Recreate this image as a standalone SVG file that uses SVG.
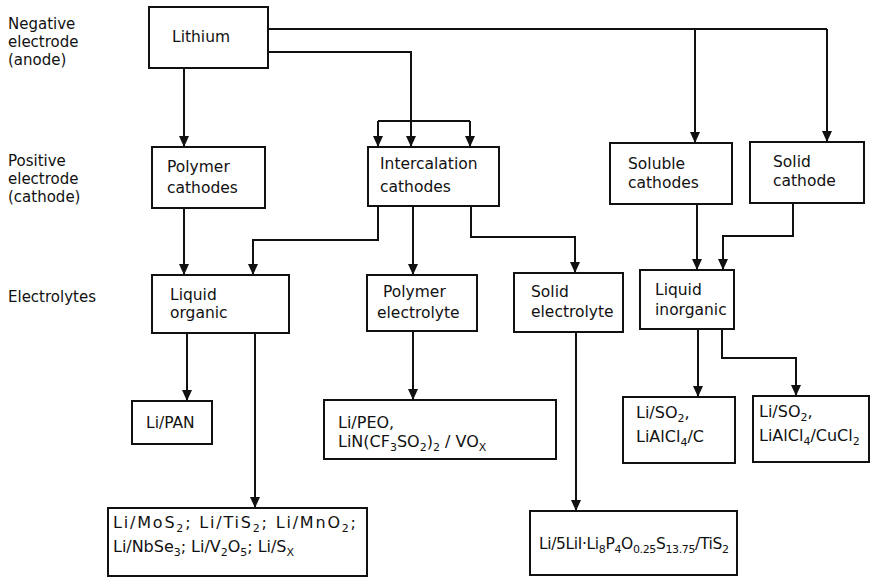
<svg xmlns="http://www.w3.org/2000/svg" width="871" height="579" viewBox="0 0 871 579">
<style>
  .box { fill: #fff; stroke: #111; stroke-width: 2; }
  .t { font-family: "DejaVu Sans", "Liberation Sans", sans-serif; font-size: 15.5px; fill: #111; }
  .f { font-family: "DejaVu Sans", "Liberation Sans", sans-serif; font-size: 16px; fill: #111; }
  .lbl { font-family: "DejaVu Sans", "Liberation Sans", sans-serif; font-size: 15px; fill: #111; }
  .sub { font-size: 11px; }
  .c { fill: none; stroke: #111; stroke-width: 2; }
  .a { fill: none; stroke: #111; stroke-width: 2; marker-end: url(#arr); }
</style>
<defs>
  <marker id="arr" viewBox="0 0 11 10" refX="11" refY="5" markerWidth="11" markerHeight="10" markerUnits="userSpaceOnUse" orient="auto">
    <path d="M0,0 L11,5 L0,10 z" fill="#111"/>
  </marker>
</defs>
<rect width="871" height="579" fill="#fff"/>

<g id="row-labels">
  <text class="lbl" x="8" y="29">Negative</text>
  <text class="lbl" x="8" y="47">electrode</text>
  <text class="lbl" x="8" y="65">(anode)</text>
  <text class="lbl" x="8" y="166">Positive</text>
  <text class="lbl" x="8" y="184">electrode</text>
  <text class="lbl" x="8" y="202">(cathode)</text>
  <text class="lbl" x="8" y="302">Electrolytes</text>
</g>

<g id="connectors">
  <polyline class="c" points="268,29 827,29"/>
  <polyline class="a" points="827,29 827,142"/>
  <polyline class="a" points="695,29 695,143"/>
  <polyline class="c" points="268,52 411,52 411,121"/>
  <polyline class="c" points="378,121 470,121"/>
  <polyline class="a" points="378,121 378,147"/>
  <polyline class="a" points="411,121 411,147"/>
  <polyline class="a" points="470,121 470,147"/>
  <polyline class="a" points="184,68 184,147"/>
  <polyline class="a" points="184,208 184,275"/>
  <polyline class="a" points="378,206 378,240 253,240 253,275"/>
  <polyline class="a" points="413,206 413,275"/>
  <polyline class="a" points="471,206 471,237 575,237 575,273"/>
  <polyline class="a" points="697,204 697,270"/>
  <polyline class="a" points="793,203 793,236 723,236 723,270"/>
  <polyline class="a" points="187,333 187,401"/>
  <polyline class="a" points="255,333 255,508"/>
  <polyline class="a" points="413,331 413,400"/>
  <polyline class="a" points="576,332 576,511"/>
  <polyline class="a" points="698,329 698,397"/>
  <polyline class="a" points="722,329 722,358 796,358 796,396"/>
</g>

<g id="lithium">
  <rect class="box" x="149" y="7" width="119" height="61"/>
  <text class="t" x="172" y="42">Lithium</text>
</g>

<g id="polymer-cathodes">
  <rect class="box" x="152" y="147" width="113" height="61"/>
  <text class="t" x="167" y="172">Polymer</text>
  <text class="t" x="167" y="193">cathodes</text>
</g>

<g id="intercalation-cathodes">
  <rect class="box" x="368" y="147" width="131" height="59"/>
  <text class="t" x="380" y="169">Intercalation</text>
  <text class="t" x="380" y="192">cathodes</text>
</g>

<g id="soluble-cathodes">
  <rect class="box" x="610" y="143" width="122" height="61"/>
  <text class="t" x="628" y="169">Soluble</text>
  <text class="t" x="628" y="188">cathodes</text>
</g>

<g id="solid-cathode">
  <rect class="box" x="750" y="142" width="114" height="61"/>
  <text class="t" x="773" y="167">Solid</text>
  <text class="t" x="773" y="186">cathode</text>
</g>

<g id="liquid-organic">
  <rect class="box" x="152" y="275" width="137" height="58"/>
  <text class="t" x="170" y="300">Liquid</text>
  <text class="t" x="170" y="318">organic</text>
</g>

<g id="polymer-electrolyte">
  <rect class="box" x="367" y="275" width="110" height="56"/>
  <text class="t" x="383" y="297">Polymer</text>
  <text class="t" x="377" y="318">electrolyte</text>
</g>

<g id="solid-electrolyte">
  <rect class="box" x="514" y="273" width="109" height="59"/>
  <text class="t" x="531" y="297">Solid</text>
  <text class="t" x="531" y="317">electrolyte</text>
</g>

<g id="liquid-inorganic">
  <rect class="box" x="640" y="270" width="94" height="59"/>
  <text class="t" x="655" y="295">Liquid</text>
  <text class="t" x="655" y="315">inorganic</text>
</g>

<g id="li-pan">
  <rect class="box" x="132" y="401" width="80" height="43"/>
  <text class="t" x="146" y="428">Li/PAN</text>
</g>

<g id="li-peo">
  <rect class="box" x="324" y="400" width="232" height="59"/>
  <text class="f" x="338" y="428">Li/PEO,</text>
  <text class="f" x="338" y="447">LiN(CF<tspan class="sub" dy="4">3</tspan><tspan dy="-4">SO</tspan><tspan class="sub" dy="4">2</tspan><tspan dy="-4">)</tspan><tspan class="sub" dy="4">2</tspan><tspan dy="-4"> / VO</tspan><tspan class="sub" dy="4">X</tspan></text>
</g>

<g id="li-so2-c">
  <rect class="box" x="623" y="397" width="112" height="66"/>
  <text class="f" x="636" y="418">Li/SO<tspan class="sub" dy="4">2</tspan><tspan dy="-4">,</tspan></text>
  <text class="f" x="636" y="442">LiAlCl<tspan class="sub" dy="4">4</tspan><tspan dy="-4">/C</tspan></text>
</g>

<g id="li-so2-cucl2">
  <rect class="box" x="753" y="396" width="116" height="66"/>
  <text class="f" x="759" y="417">Li/SO<tspan class="sub" dy="4">2</tspan><tspan dy="-4">,</tspan></text>
  <text class="f" x="759" y="441">LiAlCl<tspan class="sub" dy="4">4</tspan><tspan dy="-4">/CuCl</tspan><tspan class="sub" dy="4">2</tspan></text>
</g>

<g id="li-mos2">
  <rect class="box" x="108" y="508" width="259" height="68"/>
  <text class="f" x="113" y="528" textLength="243">Li/MoS<tspan class="sub" dy="4">2</tspan><tspan dy="-4">; Li/TiS</tspan><tspan class="sub" dy="4">2</tspan><tspan dy="-4">; Li/MnO</tspan><tspan class="sub" dy="4">2</tspan><tspan dy="-4">;</tspan></text>
  <text class="f" x="113" y="552" textLength="181">Li/NbSe<tspan class="sub" dy="4">3</tspan><tspan dy="-4">; Li/V</tspan><tspan class="sub" dy="4">2</tspan><tspan dy="-4">O</tspan><tspan class="sub" dy="4">5</tspan><tspan dy="-4">; Li/S</tspan><tspan class="sub" dy="4">X</tspan></text>
</g>

<g id="li-5lii">
  <rect class="box" x="530" y="511" width="207" height="64"/>
  <text class="t" x="539" y="549" textLength="190">Li/5LiI·Li<tspan class="sub" dy="4">8</tspan><tspan dy="-4">P</tspan><tspan class="sub" dy="4">4</tspan><tspan dy="-4">O</tspan><tspan class="sub" dy="4">0.25</tspan><tspan dy="-4">S</tspan><tspan class="sub" dy="4">13.75</tspan><tspan dy="-4">/TiS</tspan><tspan class="sub" dy="4">2</tspan></text>
</g>
</svg>
